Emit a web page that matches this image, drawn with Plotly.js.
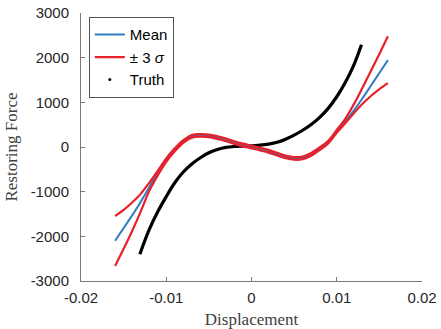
<!DOCTYPE html>
<html>
<head>
<meta charset="utf-8">
<script src="https://cdn.plot.ly/plotly-3.0.1.min.js"></script>
<style>
  html, body { margin: 0; padding: 0; background: #fff; }
  #chart { width: 441px; height: 329px; }
</style>
</head>
<body>
<div id="chart"></div>
<script>
// Displacement grid shared by the surrogate mean and its +/- 3 sigma bounds
const disp = [-0.016, -0.015, -0.014, -0.013, -0.012, -0.011, -0.010, -0.009, -0.008, -0.007, -0.006,
  -0.005, -0.004, -0.003, -0.002, -0.001, 0, 0.001, 0.002, 0.003, 0.004, 0.005, 0.006,
  0.007, 0.008, 0.009, 0.010, 0.011, 0.012, 0.013, 0.014, 0.015, 0.016];

// Predicted mean restoring force
const meanForce = [-2100, -1815, -1531, -1230, -900, -560, -284, -60, 125, 240, 260,
  250, 210, 160, 100, 45, 0, -45, -95, -160, -220, -255, -245,
  -165, -40, 110, 350, 571, 815, 1085, 1370, 1658, 1945];

// Mean + 3 sigma
const upperForce = [-1544, -1407, -1241, -1050, -801, -534, -255, -30, 155, 270, 290,
  280, 240, 190, 130, 75, 30, -15, -65, -130, -190, -225, -215,
  -135, -10, 140, 380, 632, 954, 1319, 1699, 2084, 2480];

// Mean - 3 sigma
const lowerForce = [-2662, -2279, -1879, -1447, -987, -636, -330, -95, 95, 210, 230,
  220, 180, 130, 70, 15, -30, -75, -125, -190, -250, -285, -275,
  -195, -70, 80, 320, 533, 756, 962, 1141, 1297, 1430];

// True restoring force samples
const truthDisp = [-0.0131, -0.012, -0.011, -0.010, -0.009, -0.008, -0.007, -0.006,
  -0.005, -0.004, -0.003, -0.002, -0.001, 0, 0.001, 0.002, 0.003, 0.004, 0.005,
  0.006, 0.007, 0.008, 0.009, 0.010, 0.011, 0.012, 0.0129];
const truthForce = [-2400, -1850, -1450, -1110, -800, -560, -380, -240,
  -130, -55, -8, 12, 20, 25, 40, 65, 105, 175, 265,
  375, 505, 665, 865, 1125, 1445, 1835, 2290];

// Axis ticks
const xTicks = [-0.02, -0.01, 0, 0.01, 0.02];
const xTickText = ['-0.02', '-0.01', '0', '0.01', '0.02'];
const yTicks = [-3000, -2000, -1000, 0, 1000, 2000, 3000];
const yTickText = ['-3000', '-2000', '-1000', '0', '1000', '2000', '3000'];

const blue = '#2f7ec4';
const red = '#e8202a';

const traces = [
  {
    x: truthDisp, y: truthForce, mode: 'lines', type: 'scatter',
    line: { color: '#000', width: 3.2, shape: 'spline', smoothing: 1 },
    showlegend: false, legendgroup: 'truth', hoverinfo: 'skip'
  },
  {
    x: disp, y: meanForce, mode: 'lines', type: 'scatter', name: 'Mean',
    line: { color: blue, width: 2, shape: 'spline' }
  },
  {
    x: disp, y: upperForce, mode: 'lines', type: 'scatter', name: '± 3 <i>σ</i>',
    legendgroup: 'sigma', line: { color: red, width: 2.2, shape: 'spline' }
  },
  {
    x: disp, y: lowerForce, mode: 'lines', type: 'scatter', name: '± 3 <i>σ</i>',
    legendgroup: 'sigma', showlegend: false, line: { color: red, width: 2.2, shape: 'spline' }
  },
  {
    x: [null], y: [null], mode: 'markers', type: 'scatter', name: 'Truth',
    legendgroup: 'truth', marker: { color: '#000', size: 3 }
  }
];

const axisCommon = {
  showgrid: false, zeroline: false, showline: true, mirror: false,
  linecolor: '#7a7a7a', linewidth: 1,
  ticks: 'inside', ticklen: 4, tickcolor: '#7a7a7a', tickwidth: 1,
  tickmode: 'array',
  tickfont: { family: 'Liberation Sans, Arial, sans-serif', size: 15, color: '#262626' }
};

const layout = {
  width: 441, height: 329,
  margin: { l: 81, r: 19, t: 13, b: 48 },
  paper_bgcolor: '#fff', plot_bgcolor: '#fff',
  showlegend: true,
  legend: {
    x: 0.0235, y: 0.983, xanchor: 'left', yanchor: 'top',
    bgcolor: '#fff', bordercolor: '#262626', borderwidth: 0.8,
    font: { family: 'Liberation Sans, Arial, sans-serif', size: 15, color: '#000' },
    itemwidth: 30, tracegroupgap: 0, traceorder: 'normal'
  },
  xaxis: Object.assign({}, axisCommon, {
    range: [-0.02, 0.02], tickvals: xTicks, ticktext: xTickText, ticklabelstandoff: 3,
    title: { text: 'Displacement', standoff: 9,
      font: { family: 'Liberation Serif, Times New Roman, serif', size: 17, color: '#404040' } }
  }),
  yaxis: Object.assign({}, axisCommon, {
    range: [-3000, 3000], tickvals: yTicks, ticktext: yTickText, ticklabelstandoff: 8,
    title: { text: 'Restoring Force', standoff: 8,
      font: { family: 'Liberation Serif, Times New Roman, serif', size: 17, color: '#404040' } }
  })
};

Plotly.newPlot('chart', traces, layout, { displayModeBar: false, staticPlot: true });
</script>
</body>
</html>
